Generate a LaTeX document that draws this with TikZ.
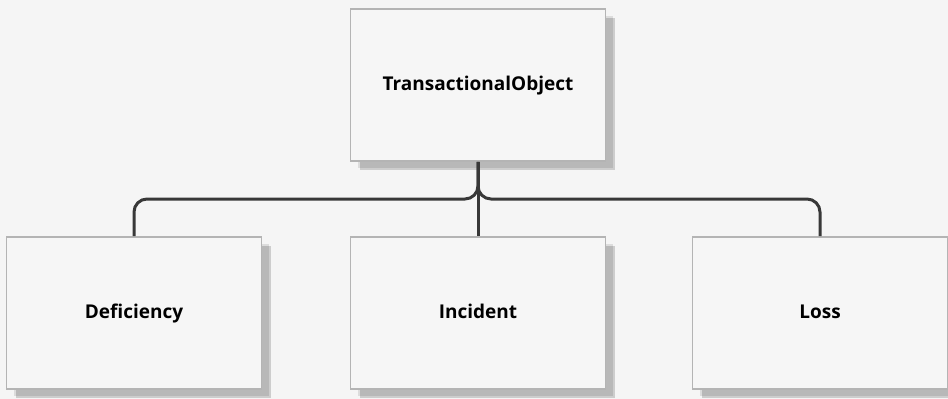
\documentclass[tikz,border=0pt]{standalone}
\usepackage{fontspec}
\setmainfont{Open Sans}
\usetikzlibrary{shadows,calc}
\definecolor{bg}{HTML}{F5F5F5}
\definecolor{boxfill}{HTML}{F6F6F6}
\definecolor{boxline}{HTML}{B4B4B4}
\definecolor{conncol}{HTML}{383838}
\tikzset{
  cls/.style={draw=boxline, line width=1.6pt, fill=boxfill, minimum width=255pt, minimum height=152pt,
    inner sep=0pt, text height=14pt, text depth=4pt, font=\fontsize{19}{21}\selectfont\bfseries,
    drop shadow={shadow xshift=9pt, shadow yshift=-9pt, fill=black, opacity=0.16},
    drop shadow={shadow xshift=7pt, shadow yshift=-7pt, fill=black, opacity=0.10}},
  conn/.style={draw=conncol, line width=3pt, rounded corners=13pt}
}
\begin{document}
\begin{tikzpicture}[x=1pt,y=-1pt]
\fill[bg] (0,0) rectangle (948,399);
\clip (0,0) rectangle (948,399);
\node[cls] (top) at (478,85) {TransactionalObject};
\node[cls] (def) at (134,313) {Deficiency};
\node[cls] (inc) at (478,313) {Incident};
\node[cls] (loss) at (820,313) {Loss};
\coordinate (mid) at ($(top.south)!0.5!(inc.north)$);
\draw[conn] (top.south) -- (inc.north);
\draw[conn] (def.north) |- (mid) -- (top.south);
\draw[conn] (loss.north) |- (mid) -- (top.south);
\end{tikzpicture}
\end{document}
